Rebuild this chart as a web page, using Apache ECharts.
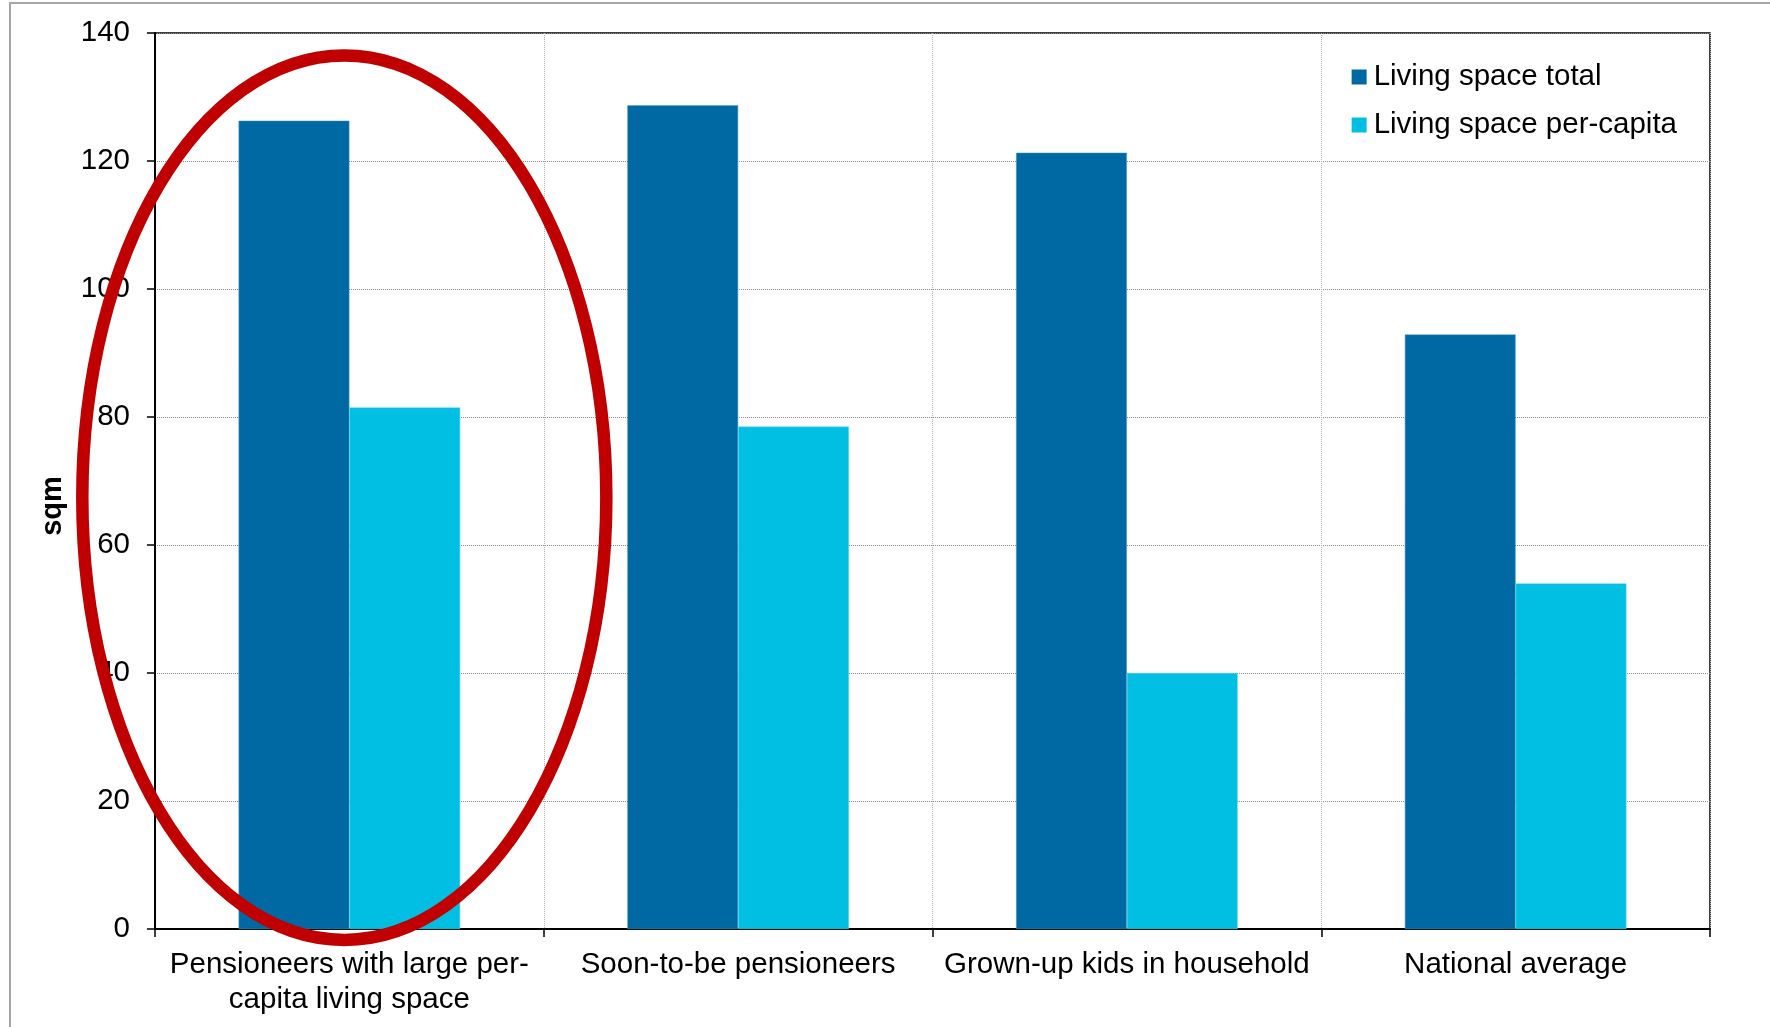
<!DOCTYPE html>
<html>
<head>
<meta charset="utf-8">
<script src="https://cdn.jsdelivr.net/npm/echarts@6/dist/echarts.min.js"></script>
<style>
  html, body { margin: 0; padding: 0; background: #fff; }
  #frame { position: absolute; left: 9px; top: 2px; width: 1800px; height: 1100px; border-left: 2px solid #a6a6a6; border-top: 2px solid #a6a6a6; }
  #main { position: absolute; left: 0; top: 0; width: 1770px; height: 1027px; }
</style>
</head>
<body>
<div id="frame"></div>
<div id="main"></div>
<script>
// chart data
var categories = ['Pensioneers with large per-\ncapita living space', 'Soon-to-be pensioneers', 'Grown-up kids in household', 'National average'];
var totalSpace = [126.3, 128.7, 121.3, 92.9];
var perCapita = [81.5, 78.5, 40.0, 54.0];
var yTicks = { min: 0, max: 140, interval: 20 };

var chart = echarts.init(document.getElementById('main'));

var option = {
  animation: false,
  textStyle: { fontFamily: 'Liberation Sans, Arial, sans-serif' },
  color: ['#0069a3', '#00bfe2'],
  grid: {
    left: 155, right: 60, top: 33, bottom: 98,
    show: true, borderColor: '#000', borderWidth: 1.5, backgroundColor: 'transparent'
  },
  legend: {
    orient: 'vertical',
    right: 88,
    top: 57,
    itemWidth: 15,
    itemHeight: 15,
    itemGap: 18,
    icon: 'rect',
    itemStyle: { borderWidth: 0 },
    textStyle: { fontSize: 29.5, color: '#000', padding: [0, 0, 0, 2] },
    data: ['Living space total', 'Living space per-capita']
  },
  xAxis: {
    type: 'category',
    data: categories,
    axisLine: { lineStyle: { color: '#000', width: 2 } },
    axisTick: { show: true, length: 8, lineStyle: { color: '#000', width: 1.5 } },
    axisLabel: { color: '#000', fontSize: 29.5, margin: 18, lineHeight: 35, interval: 0 },
    splitLine: { show: true, lineStyle: { color: '#b0b0b0', type: 'dotted', width: 1 } }
  },
  yAxis: {
    type: 'value',
    min: yTicks.min, max: yTicks.max, interval: yTicks.interval,
    name: 'sqm',
    nameLocation: 'middle',
    nameGap: 88,
    nameTextStyle: { fontSize: 29, fontWeight: 'bold', color: '#000', padding: [0, 50, 0, 0] },
    axisLine: { show: true, lineStyle: { color: '#000', width: 2 } },
    axisTick: { show: true, length: 8, lineStyle: { color: '#000', width: 1.5 } },
    axisLabel: { color: '#000', fontSize: 29.5, margin: 25 },
    splitLine: { show: true, lineStyle: { color: '#8c8c8c', type: 'dotted', width: 1 } }
  },
  series: [
    {
      name: 'Living space total',
      type: 'bar',
      data: totalSpace,
      barWidth: '28.5%',
      barGap: '0%',
      itemStyle: { borderColor: '#4a9ccc', borderWidth: 0.5 }
    },
    {
      name: 'Living space per-capita',
      type: 'bar',
      data: perCapita,
      barWidth: '28.5%',
      barGap: '0%',
      itemStyle: { borderColor: '#5fd6ef', borderWidth: 0.5 }
    }
  ]
};

chart.setOption(option);

// red highlight ellipse round the first group, placed through the axes
var c0 = chart.convertToPixel({ xAxisIndex: 0 }, categories[0]);
var c1 = chart.convertToPixel({ xAxisIndex: 0 }, categories[1]);
var yTop = chart.convertToPixel({ yAxisIndex: 0 }, 136.5);
var yBot = chart.convertToPixel({ yAxisIndex: 0 }, -1.7);
var catW = c1 - c0;
chart.setOption({
  graphic: [{
    type: 'ellipse',
    z: 100,
    shape: { cx: c0 - 0.013 * catW, cy: (yTop + yBot) / 2, rx: 0.674 * catW, ry: (yBot - yTop) / 2 },
    style: { fill: 'none', stroke: '#c00000', lineWidth: 12.5 },
    silent: true
  }]
});
</script>
</body>
</html>
